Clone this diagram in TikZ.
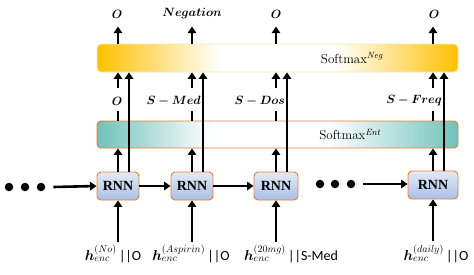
\documentclass[tikz,border=0pt]{standalone}
\usepackage{amsmath,bm}
\usepackage{fontspec}
\newfontfamily\carl{Carlito}
\newfontfamily\tnr{Liberation Serif}
\usetikzlibrary{arrows.meta}
\definecolor{negor}{HTML}{FFC000}
\definecolor{teal2}{HTML}{70C2BB}
\definecolor{orb}{HTML}{ED7D31}
\definecolor{rnntop}{HTML}{E2EAF6}
\definecolor{rnnbot}{HTML}{A8BFE5}
\definecolor{negbd}{HTML}{EFEFB0}
\pgfdeclarehorizontalshading{negshade}{100bp}{color(0bp)=(negor); color(25bp)=(negor); color(42bp)=(white); color(58bp)=(white); color(75bp)=(negor); color(100bp)=(negor)}
\pgfdeclarehorizontalshading{entshade}{100bp}{color(0bp)=(teal2); color(25bp)=(teal2); color(41bp)=(white); color(57bp)=(white); color(75bp)=(teal2); color(100bp)=(teal2)}
\tikzset{
  bar/.style={rectangle, rounded corners=4pt, inner sep=0pt},
  negbar/.style={bar, draw=negbd, line width=0.8pt, shading=negshade},
  entbar/.style={bar, draw=orb, line width=0.9pt, shading=entshade},
  rnn/.style={rectangle, rounded corners=4pt, draw=orb, line width=0.9pt, top color=rnntop, bottom color=rnnbot, minimum height=28pt, inner sep=0pt, font=\tnr\fontsize{14}{16}\selectfont\bfseries},
  arr/.style={line width=2.6pt, -{Triangle[length=6.5pt,width=8.5pt]}},
  ln/.style={line width=2.6pt},
  dot/.style={circle, fill=black, minimum size=8.5pt, inner sep=0pt},
  lab/.style={inner sep=0pt, font=\fontsize{13}{15}\selectfont},
  sm/.style={inner sep=0pt, font=\fontsize{13}{15}\selectfont},
  inp/.style={inner sep=0pt, font=\fontsize{14}{16}\selectfont},
}
\begin{document}
\begin{tikzpicture}[x=1pt,y=-1pt]
\useasboundingbox (0,0) rectangle (474,274);
% bars
\node[negbar, minimum width=361pt, minimum height=28pt] (neg) at (277.5,58) {};
\node[sm] (negtxt) at (352,58) {Softmax$^{\mathit{Neg}}$};
\node[entbar, minimum width=361pt, minimum height=27pt] (ent) at (277.5,134.5) {};
\node[sm] (enttxt) at (350,134.5) {Softmax$^{\mathit{Ent}}$};
% RNNs
\node[rnn, minimum width=42pt] (r1) at (118,186) {RNN};
\node[rnn, minimum width=42pt] (r2) at (192,186) {RNN};
\node[rnn, minimum width=44pt] (r3) at (276,186) {RNN};
\node[rnn, minimum width=50pt] (r4) at (433,185) {RNN};
% dots
\node[dot] (d1) at (9,187) {};
\node[dot] (d2) at (25,187) {};
\node[dot] (d3) at (41,187) {};
\node[dot] (d4) at (320,184) {};
\node[dot] (d5) at (335,184) {};
\node[dot] (d6) at (351,184) {};
% horizontal arrows
\draw[arr] ([xshift=8pt]d3.east) -- (r1.west);
\draw[arr] (r1.east) -- (r2.west);
\draw[arr] (r2.east) -- (r3.west);
\draw[arr] ([xshift=8pt]d6.east) -- (r4.west |- d6);
% inputs
\node[inp] (i1) at (113,254) {$\bm{h}_{enc}^{(No)}$\,{\carl||O}};
\node[inp] (i2) at (191,254) {$\bm{h}_{enc}^{(Aspirin)}$\,{\carl||O}};
\node[inp] (i3) at (291,254) {$\bm{h}_{enc}^{(20mg)}$\,{\carl||S-Med}};
\node[inp] (i4) at (436,254) {$\bm{h}_{enc}^{(daily)}$\,{\carl||O}};
\foreach \r in {r1,r2,r3,r4}{
  \draw[arr] ([yshift=-42pt]\r.south) -- (\r.south);
  \draw[arr] (\r.north) -- (\r.north |- ent.south);
  \draw[arr] ([xshift=11pt]\r.north) -- ([xshift=11pt]\r.north |- neg.south);
  \draw[ln] (\r.north |- ent.north) -- ([yshift=10pt]\r.north |- ent.north);
  \draw[arr] ([yshift=-16pt]\r.north |- neg.south) -- (\r.north |- neg.south);
  \draw[arr] (\r.north |- neg.north) -- ([yshift=17pt]\r.north |- neg.north);
}
% middle labels
\node[lab] (m1) at (117,101) {$\bm{O}$};
\node[lab, anchor=east] (m2) at (201,101) {$\bm{S-Med}$};
\node[lab, anchor=east] (m3) at (285,101) {$\bm{S-Dos}$};
\node[lab, anchor=east] (m4) at (442,101) {$\bm{S-Freq}$};
% top labels
\node[lab] (t1) at (117,14) {$\bm{O}$};
\node[lab] (t2) at (192,14) {$\bm{Negation}$};
\node[lab] (t3) at (276,14) {$\bm{O}$};
\node[lab] (t4) at (434,14) {$\bm{O}$};
\end{tikzpicture}
\end{document}
